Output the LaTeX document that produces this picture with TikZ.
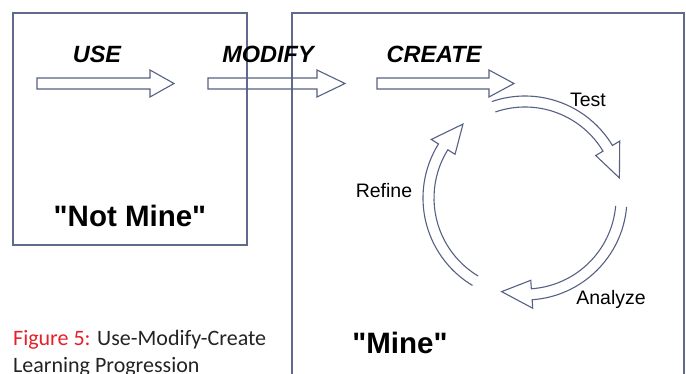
\documentclass[tikz,border=0pt]{standalone}
\usepackage{fontspec}
\setmainfont{Liberation Sans}
\newfontfamily\ownerfont{Liberation Sans}
\newfontfamily\capfont{Carlito}
\usetikzlibrary{positioning}

\definecolor{framecol}{RGB}{96,106,140}
\definecolor{arrowcol}{RGB}{86,96,132}
\definecolor{figred}{RGB}{228,32,40}
\definecolor{captext}{RGB}{35,35,35}

\begin{document}
\begin{tikzpicture}[x=1pt, y=-1pt,
    frame/.style={draw=framecol, line width=1.4pt},
    hollow/.style={draw=arrowcol, line width=1.1pt, line join=miter},
    stage/.style={font=\fontsize{23.5}{28}\selectfont\bfseries\itshape, anchor=base, inner sep=0pt},
    owner/.style={font=\ownerfont\fontsize{29.5}{34}\selectfont\bfseries, anchor=base, inner sep=0pt},
    cyclelabel/.style={font=\fontsize{19.5}{23}\selectfont, anchor=base, inner sep=0pt},
    caption/.style={font=\capfont\fontsize{22}{26}\selectfont, text=captext, anchor=base west, inner sep=0pt}]
        \useasboundingbox (0,0) rectangle (686,373);
        \clip (0,0) rectangle (686,373);

        % Boxes
        \draw[frame] (13,13) rectangle (247,245);
        \draw[frame] (292,380) -- (292,13) -- (684,13) -- (684,380);

        % Stage labels
        \node[stage] (use) at (97,62) {USE};
        \node[stage] (modify) at (268,62) {MODIFY};
        \node[stage] (create) at (434,62) {CREATE};

        % Straight hollow arrows
        \draw[hollow] (37,78) -- (150,78) -- (150,70) -- (174,83.5) -- (150,97) -- (150,89) -- (37,89) -- cycle;
        \draw[hollow] (208,78) -- (317,78) -- (317,70) -- (345,83.5) -- (317,97) -- (317,89) -- (208,89) -- cycle;
        \draw[hollow] (377,78) -- (489,78) -- (489,70) -- (514,83.5) -- (489,97) -- (489,89) -- (377,89) -- cycle;

        % Test / Analyze / Refine cycle
        \begin{scope}[shift={(525,198)}, y=1pt]
            % Test
            \draw[hollow] (109:102) arc[start angle=109, end angle=31, radius=102] -- (31:110.5) -- (12:96.5) -- (31:82.5) -- (31:91) arc[start angle=31, end angle=109, radius=91];
            % Analyze
            \draw[hollow] (-5:102) arc[start angle=-5, end angle=-86, radius=102] -- (-86:110.5) -- (-104:96.5) -- (-86:82.5) -- (-86:91) arc[start angle=-86, end angle=-5, radius=91];
            % Refine
            \draw[hollow] (-121:102) arc[start angle=-121, end angle=-212, radius=102] -- (-212:110.5) -- (-230:96.5) -- (-212:82.5) -- (-212:91) arc[start angle=-212, end angle=-121, radius=91];
        \end{scope}

        \node[cyclelabel] (test) at (588,106) {Test};
        \node[cyclelabel] (analyze) at (611,304) {Analyze};
        \node[cyclelabel] (refine) at (384,197) {Refine};

        % Ownership labels
        \node[owner] (notmine) at (130,226) {"Not Mine"};
        \node[owner] (mine) at (400,353) {"Mine"};

        % Caption
        \node[caption] (caption1) at (13,345) {\textcolor{figred}{Figure 5:} Use-Modify-Create};
        \node[caption] (caption2) at (13,372) {Learning Progression};
\end{tikzpicture}
\end{document}
